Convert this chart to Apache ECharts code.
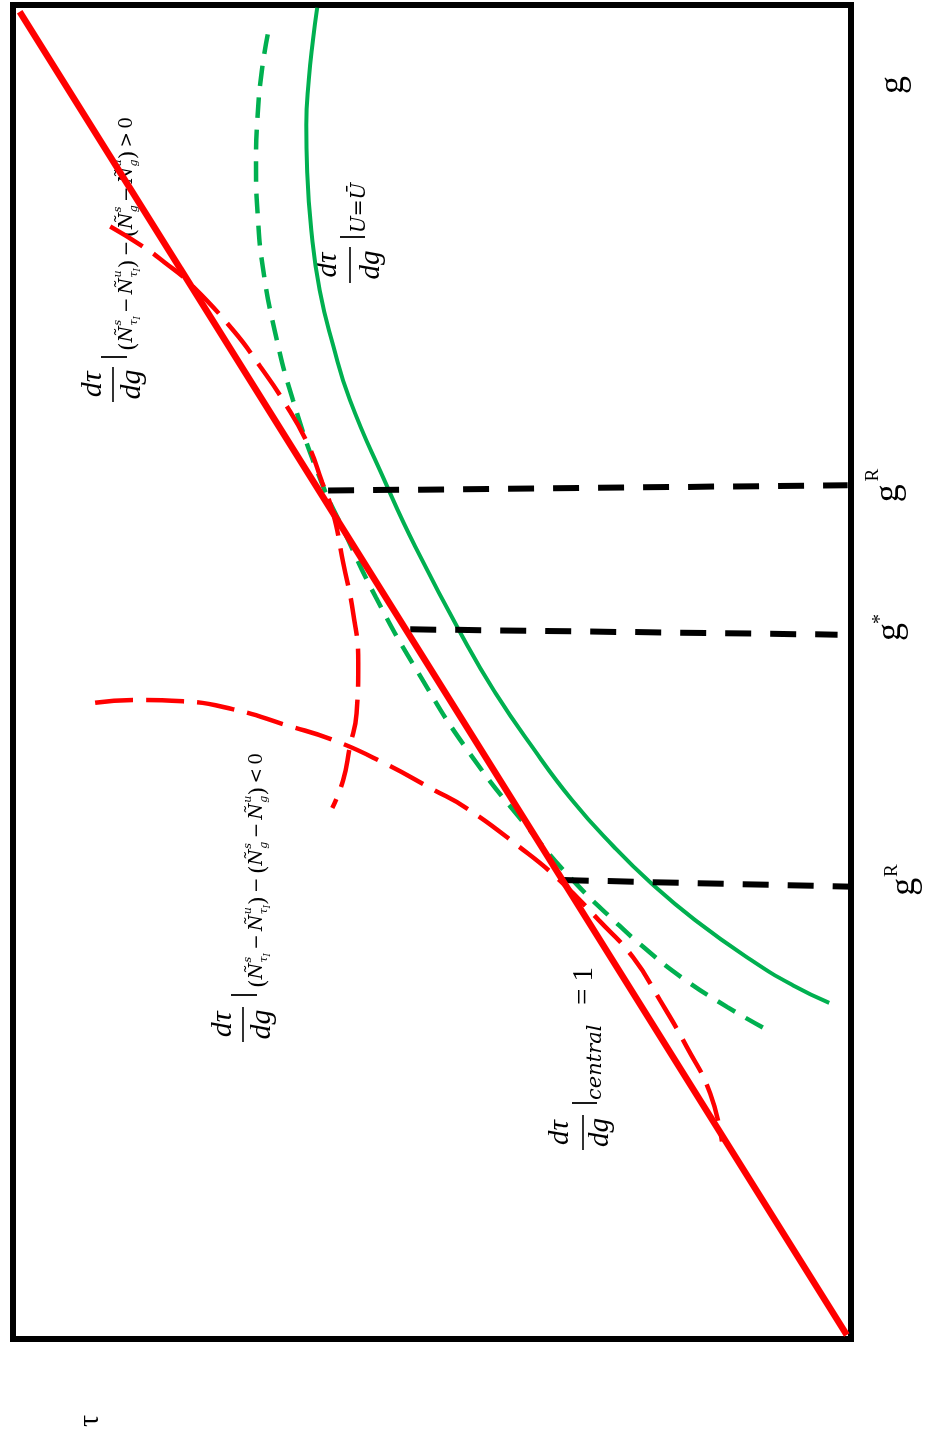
<!DOCTYPE html>
<html><head><meta charset="utf-8">
<script src="https://cdn.jsdelivr.net/npm/echarts@6/dist/echarts.min.js"></script>
<style>html,body{margin:0;padding:0;background:#fff}#c{width:932px;height:1437px}</style>
</head><body><div id="c"></div>
<script>
// Figure is drawn rotated: tau runs horizontally (increasing to the left), g runs vertically (increasing upward).
// Points are [tau, g] on 0..100 scales.
const centralLine = [[0.5,0.3],[99.2,99.5]];
const greenSolid = [[63.7,99.8],[64.2,97.4],[64.7,94.4],[65.0,91.0],[64.9,87.6],[64.4,83.1],[63.4,78.6],[61.8,74.5],[59.8,70.4],[55.7,64.4],[52.0,59.4],[45.8,52.0],[42.4,48.4],[38.4,44.7],[33.3,40.4],[28.3,36.9],[23.9,34.2],[18.6,31.4],[11.9,28.4],[6.9,26.5],[2.6,25.2]];
const greenDashed = [[69.6,97.8],[70.3,95.1],[70.8,91.8],[71.0,88.0],[70.8,84.3],[70.2,80.4],[68.7,75.4],[66.6,70.4],[63.3,64.4],[60.6,60.7],[56.7,55.6],[51.6,49.9],[45.5,43.9],[38.4,38.2],[33.2,34.4],[28.0,31.2],[24.8,29.4],[20.2,27.1],[14.8,24.9],[10.1,23.2]];
const redDashedPos = [[88.4,83.4],[84.5,81.9],[81.9,80.7],[79.0,79.2],[73.7,75.6],[70.5,72.9],[67.8,70.4],[64.9,67.2],[63.1,64.2],[61.8,61.9],[60.6,58.2],[59.4,54.4],[58.8,50.7],[59.0,46.9],[59.8,44.4],[60.6,41.9],[61.9,39.8]];
const redDashedNeg = [[90.2,47.7],[85.7,47.9],[79.7,47.8],[73.7,47.2],[67.3,46.0],[61.8,44.9],[55.8,43.2],[49.9,41.2],[45.9,39.8],[39.6,36.9],[34.8,34.4],[30.1,31.4],[26.0,28.6],[22.8,25.4],[19.6,21.9],[16.8,18.4],[15.4,14.8]];
const gRUpperLine = [[62.4,63.6],[0.4,64.0]];
const gStarLine = [[52.6,53.2],[1.6,52.8]];
const gRLowerLine = [[34.4,34.4],[-0.8,33.9]];
// g-axis tick labels (base + superscript) and their g positions
const gTickBase = ['g','g','g'];
const gTickSup = ['R','*','R'];
const gTickValues = [63.4, 53.0, 33.9];
const gAxisName = 'g';
const gAxisNameValue = 94.0;
const tauAxisName = 'τ';

const chart = echarts.init(document.getElementById('c'), null, {renderer:'canvas'});
function line(data, color, width, type, z, clip){
  return {type:'line', data, symbol:'none', showSymbol:false, smooth: data.length>2 ? 0.5 : false,
    clip: clip !== false, z, lineStyle:{color, width, type, cap:'butt'}, silent:true};
}
chart.setOption({
  animation:false,
  grid:{left:13, right:81, top:5, bottom:98, show:true, borderColor:'#000', borderWidth:6},
  xAxis:{type:'value', min:0, max:100, inverse:true, show:false},
  yAxis:{type:'value', min:0, max:100, show:false},
  series:[
    line(greenSolid, '#00b050', 4, 'solid', 2),
    line(greenDashed, '#00b050', 4.5, [20,12], 3),
    line(redDashedPos, '#ff0000', 4.5, [38,13], 4),
    line(redDashedNeg, '#ff0000', 4.5, [38,13], 4),
    line(gRUpperLine, '#000', 6, [26,19], 5, false),
    line(gStarLine, '#000', 6, [26,19], 5, false),
    line(gRLowerLine, '#000', 6, [26,19], 5, false),
    line(centralLine, '#ff0000', 6.5, 'solid', 6)
  ]
});

// ---------- rotated math annotations ----------
const SERIF = '"Liberation Serif", serif';
const MATHF = '"DejaVu Serif", serif';
const MID = 0.30;
const mc = document.createElement('canvas').getContext('2d');
function fnt(size, it, fam){ return (it?'italic ':'') + size.toFixed(1) + 'px ' + (fam||SERIF); }
function tw(s, size, it, fam){ mc.font = fnt(size,it,fam); return mc.measureText(s).width; }
function T(s, x, base, size, it, align, fam){
  return {type:'text', x:x, y: base - MID*size, silent:true,
    style:{text:s, font:fnt(size,it,fam), fill:'#000', align:align||'left', verticalAlign:'middle'}};
}
function Ln(x1,y1,x2,y2,w){ return {type:'line', silent:true, shape:{x1,y1,x2,y2}, style:{stroke:'#000', lineWidth:w||1.6}}; }

function expr(tokens, x0, base, size, target){
  const F = MATHF;
  const ss = size*0.6, sss = ss*0.75;
  const pad0 = size*0.08;
  const nOps = tokens.filter(t=>t.op).length;
  const widthOf = (t, pad) => {
    if (t.op) return tw(t.op,size,false,F) + 2*pad;
    if (t.p) return tw(t.p, size*1.2, false,F);
    if (t.r) return tw(t.r, size, false,F);
    let w = tw(t.b,size,true,F);
    const ws = t.sup ? tw(t.sup,ss,true,F) : 0;
    const wb = (t.sub ? tw(t.sub,ss,true,F) : 0) + (t.ssub ? tw(t.ssub,sss,true,F) : 0);
    return w + Math.max(ws,wb) + size*0.03;
  };
  const total = tokens.reduce((a,t)=>a+widthOf(t,pad0),0);
  let pad = pad0;
  if (target && nOps) pad = Math.max(0, pad0 + (target-total)/(2*nOps));
  const out=[]; let x=x0;
  for (const t of tokens){
    if (t.op){ out.push(T(t.op, x+pad, base, size, false, 'left', F)); }
    else if (t.p){ out.push(T(t.p, x, base+size*0.14, size*1.2, false, 'left', F)); }
    else if (t.r){ out.push(T(t.r, x, base, size, false, 'left', F)); }
    else {
      out.push(T(t.b, x, base, size, true, 'left', F));
      const xb = x + tw(t.b,size,true,F) + size*0.03;
      if (t.sup) out.push(T(t.sup, xb, base - size*0.62, ss, true, 'left', F));
      if (t.sub){
        out.push(T(t.sub, xb, base + size*0.26, ss, true, 'left', F));
        if (t.ssub) out.push(T(t.ssub, xb + tw(t.sub,ss,true,F), base + size*0.4, sss, true, 'left', F));
      }
    }
    x += widthOf(t,pad);
  }
  return out;
}
function frac(X0, Y0, o){
  const ch = [
    T('dτ', o.L/2, o.num, o.size, true, 'center'),
    Ln(0,0,o.L,0,1.6),
    T('dg', o.L/2, o.den, o.size, true, 'center'),
    Ln(o.barX, o.b1, o.barX, o.b2, 1.8)
  ].concat(o.sub);
  return {type:'group', x:X0, y:Y0, rotation:Math.PI/2, children:ch};
}
function diffTokens(rel){
  return [{p:'('},{b:'Ñ',sup:'s',sub:'τ',ssub:'I'},{op:'−'},{b:'Ñ',sup:'u',sub:'τ',ssub:'I'},{p:')'},{op:'−'},
          {p:'('},{b:'Ñ',sup:'s',sub:'g'},{op:'−'},{b:'Ñ',sup:'u',sub:'g'},{p:')'},{op:rel},{r:'0'}];
}
const graphics = [
  frac(113, 402, {L:35, size:30, num:-11, den:28, barX:45, b1:-12, b2:14, sub: expr(diffTokens('>'), 51, 20, 18.5, 234)}),
  frac(243, 1042, {L:35, size:30, num:-11, den:28, barX:47, b1:-12, b2:14, sub: expr(diffTokens('<'), 54, 20, 18.5, 235)}),
  frac(583, 1150, {L:35, size:29, num:-14, den:26, barX:47, b1:-11, b2:14,
    sub:[T('central', 50, 19, 21, true, 'left', MATHF), T('= 1', 145, 10, 29, false)]}),
  frac(350, 283, {L:36, size:29, num:-13, den:30, barX:46, b1:-10, b2:15,
    sub:[T('U=Ū', 50, 16, 20, true, 'left', MATHF)]})
];
// g-axis tick labels
const tickX = [895, 897, 911];
const supOff = [[18,-22],[13,-20],[16,-19]];
gTickValues.forEach((v,i)=>{
  const py = chart.convertToPixel({yAxisIndex:0}, v);
  const supIsStar = gTickSup[i] === '*';
  graphics.push({type:'group', x:tickX[i], y:py, rotation:Math.PI/2, children:[
    T(gTickBase[i], 0, 4.3, 36, false, 'center'),
    T(gTickSup[i], supOff[i][0], supOff[i][1] + (supIsStar ? 10 : 6), supIsStar ? 20 : 19, false, 'center')
  ]});
});
graphics.push({type:'group', x:900, y:chart.convertToPixel({yAxisIndex:0}, gAxisNameValue), rotation:Math.PI/2,
  children:[T(gAxisName, 0, 4.3, 36, false, 'center')]});
graphics.push({type:'group', x:93, y:1421, rotation:Math.PI/2,
  children:[T(tauAxisName, 0, 6.4, 30, false, 'center')]});
chart.setOption({graphic: graphics});
</script></body></html>
